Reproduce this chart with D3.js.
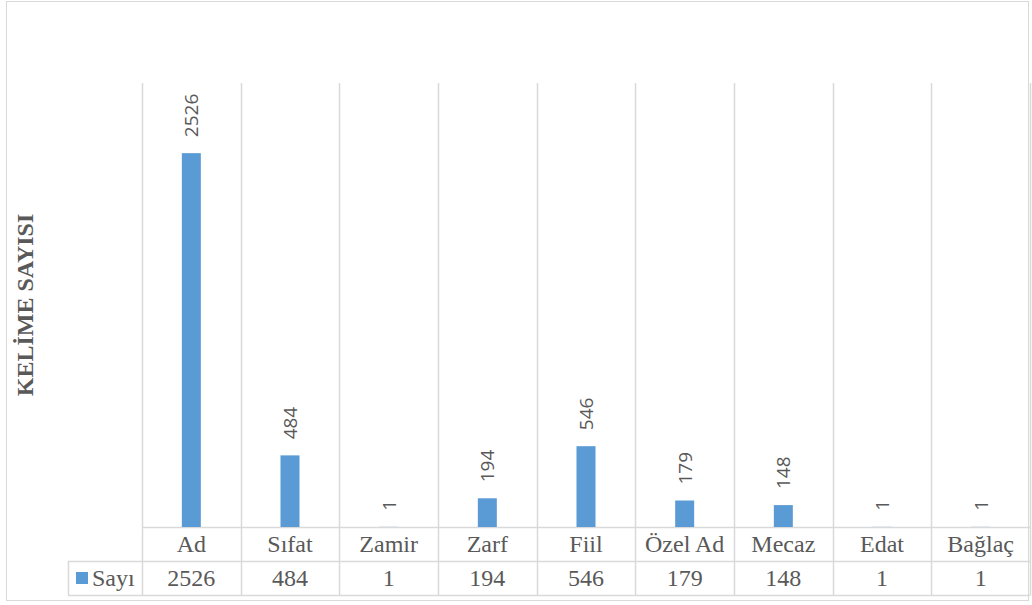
<!DOCTYPE html>
<html lang="tr">
  <head>
    <meta charset="UTF-8" />
    <title>Kelime Sayısı</title>
    <script src="https://d3js.org/d3.v7.min.js"></script>
    <style>
      body { margin: 0; background: #fff; }
      .serif { font-family: "Liberation Serif", "Times New Roman", Tinos, serif; }
      .sans { font-family: "Open Sans", "DejaVu Sans", sans-serif; }
    </style>
  </head>
  <body>
    <div id="chart"></div>
    <script>
      // data
      const categories = ["Ad", "Sıfat", "Zamir", "Zarf", "Fiil", "Özel Ad", "Mecaz", "Edat", "Bağlaç"];
      const values = [2526, 484, 1, 194, 546, 179, 148, 1, 1];
      const seriesName = "Sayı";
      const yTitle = "KELİME SAYISI";

      const W = 1032, H = 605;
      const plot = { left: 142, right: 1030, top: 83, bottom: 527 };
      const rowH = 34;
      const legendLeft = 68;
      const grid = "#d9d9d9";
      const textCol = "#595959";
      const barCol = "#5b9bd5";

      const svg = d3.select("#chart").append("svg")
        .attr("width", W).attr("height", H);

      // outer border
      svg.append("rect")
        .attr("x", 6.5).attr("y", 1.5)
        .attr("width", 1022).attr("height", 599)
        .attr("fill", "#fff").attr("stroke", grid);

      const x = d3.scaleBand().domain(categories).range([plot.left, plot.right]);
      const y = d3.scaleLinear().domain([0, 3000]).range([plot.bottom, plot.top]);

      // vertical gridlines at category edges (plot + table)
      const edges = categories.map(c => x(c)).concat([plot.right]);
      svg.append("g").selectAll("line").data(edges).enter().append("line")
        .attr("x1", d => Math.round(d) + 0.5).attr("x2", d => Math.round(d) + 0.5)
        .attr("y1", plot.top).attr("y2", plot.bottom + 2 * rowH)
        .attr("stroke", grid).attr("stroke-width", 1.5);

      // table horizontal lines
      svg.append("line")
        .attr("x1", plot.left).attr("x2", plot.right + 0.5)
        .attr("y1", plot.bottom + 0.5).attr("y2", plot.bottom + 0.5)
        .attr("stroke", grid).attr("stroke-width", 1.5);
      [plot.bottom + rowH, plot.bottom + 2 * rowH].forEach(yy => {
        svg.append("line")
          .attr("x1", legendLeft).attr("x2", plot.right + 0.5)
          .attr("y1", yy + 0.5).attr("y2", yy + 0.5)
          .attr("stroke", grid).attr("stroke-width", 1.5);
      });
      svg.append("line")
        .attr("x1", legendLeft + 0.5).attr("x2", legendLeft + 0.5)
        .attr("y1", plot.bottom + rowH).attr("y2", plot.bottom + 2 * rowH)
        .attr("stroke", grid).attr("stroke-width", 1.5);

      // bars
      const barW = 19;
      svg.append("g").selectAll("rect").data(values).enter().append("rect")
        .attr("x", (d, i) => x(categories[i]) + x.bandwidth() / 2 - barW / 2)
        .attr("y", d => y(d))
        .attr("width", barW)
        .attr("height", d => y(0) - y(d))
        .attr("fill", barCol);

      // rotated value labels
      svg.append("g").selectAll("text").data(values).enter().append("text")
        .attr("class", "sans")
        .attr("transform", (d, i) => {
          const cx = x(categories[i]) + x.bandwidth() / 2 + 7;
          return `translate(${cx},${y(d) - 16}) rotate(-90)`;
        })
        .attr("text-anchor", "start")
        .attr("font-size", 19)
        .attr("fill", textCol)
        .text(d => d);

      // category row
      svg.append("g").selectAll("text").data(categories).enter().append("text")
        .attr("class", "serif")
        .attr("x", d => x(d) + x.bandwidth() / 2)
        .attr("y", plot.bottom + rowH / 2 + 8)
        .attr("text-anchor", "middle")
        .attr("font-size", 24)
        .attr("fill", textCol)
        .text(d => d);

      // value row
      svg.append("g").selectAll("text").data(values).enter().append("text")
        .attr("class", "serif")
        .attr("x", (d, i) => x(categories[i]) + x.bandwidth() / 2)
        .attr("y", plot.bottom + rowH * 1.5 + 8)
        .attr("text-anchor", "middle")
        .attr("font-size", 24)
        .attr("fill", textCol)
        .text(d => d);

      // legend key
      svg.append("rect")
        .attr("x", 76).attr("y", plot.bottom + rowH * 1.5 - 6)
        .attr("width", 12).attr("height", 12)
        .attr("fill", barCol);
      svg.append("text")
        .attr("class", "serif")
        .attr("x", 92).attr("y", plot.bottom + rowH * 1.5 + 8)
        .attr("font-size", 24)
        .attr("fill", textCol)
        .text(seriesName);

      // y axis title
      svg.append("text")
        .attr("class", "serif")
        .attr("transform", `translate(33,305) rotate(-90)`)
        .attr("text-anchor", "middle")
        .attr("font-size", 24)
        .attr("font-weight", "bold")
        .attr("fill", textCol)
        .text(yTitle);
    </script>
  </body>
</html>
